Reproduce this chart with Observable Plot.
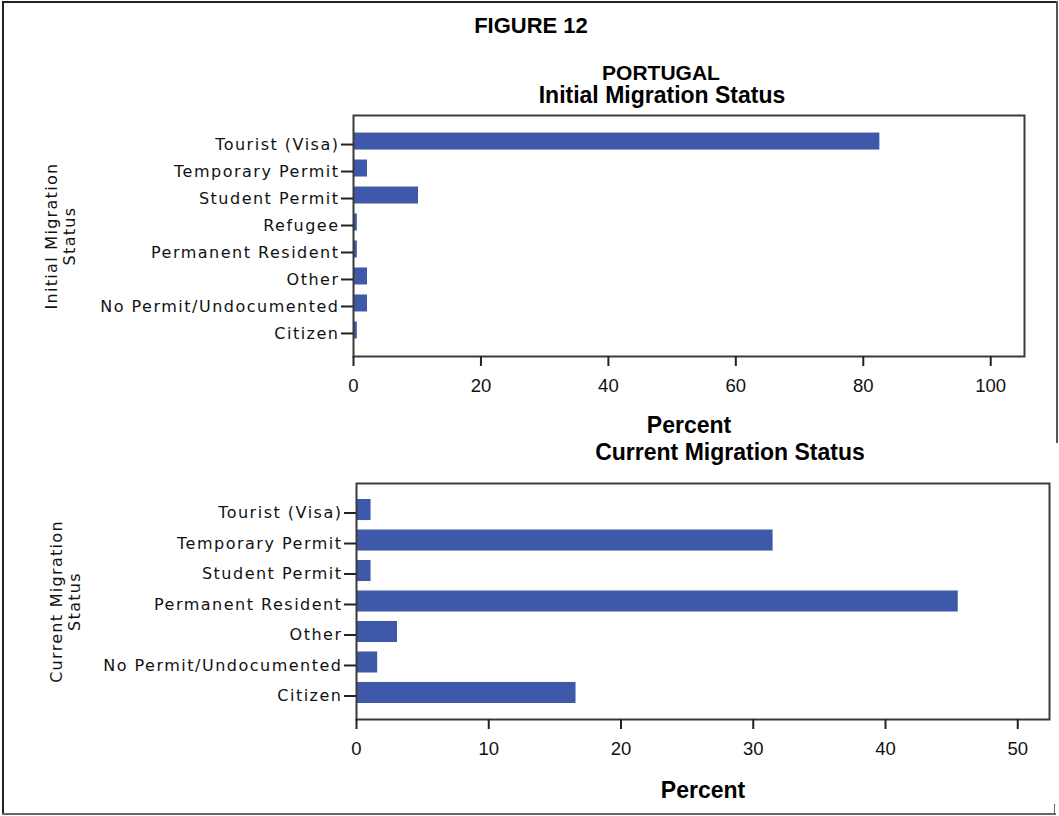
<!DOCTYPE html>
<html>
<head>
<meta charset="utf-8">
<script src="https://cdn.jsdelivr.net/npm/d3@7"></script>
<script src="https://cdn.jsdelivr.net/npm/@observablehq/plot@0.6"></script>
<style>
  html, body { margin: 0; padding: 0; background: #fff; }
  #page { position: relative; width: 1059px; height: 816px; overflow: hidden; font-family: "Liberation Sans", Arial, sans-serif; }
  .title { position: absolute; font-weight: bold; font-size: 22px; color: #000; white-space: nowrap; transform: translate(-50%, -50%); line-height: 1; }
  .edge { position: absolute; background: #222; }
  .chart { position: absolute; left: 0; }
  .chart svg { overflow: visible; }
  .chart g[aria-label="y-axis tick label"] text { letter-spacing: 1.5px; }
</style>
</head>
<body>
<div id="page">
  <div class="edge" style="left:2px;top:1px;width:2px;height:814px;"></div>
  <div class="edge" style="left:2px;top:1px;width:1056px;height:2px;"></div>
  <div class="edge" style="left:1056px;top:1px;width:2px;height:442px;background:#555;"></div>
  <div class="edge" style="left:2px;top:813px;width:1054px;height:2px;background:#666;"></div>
  <div class="edge" style="left:1054px;top:804px;width:1px;height:10px;background:#666;"></div>

  <div class="title" style="left:531px;top:26px;">FIGURE 12</div>
  <div class="title" style="left:661px;top:72px;font-size:21px;">PORTUGAL</div>
  <div class="title" style="left:662px;top:95px;font-size:23px;">Initial Migration Status</div>
  <div class="title" style="left:730px;top:452px;font-size:23px;">Current Migration Status</div>

  <div id="top" class="chart" style="top:0px;"></div>
  <div id="bottom" class="chart" style="top:440px;"></div>
</div>
<script>
// Portugal: initial migration status (percent of respondents)
const initialStatuses = ["Tourist (Visa)", "Temporary Permit", "Student Permit", "Refugee", "Permanent Resident", "Other", "No Permit/Undocumented", "Citizen"];
const initialPercent = [82.6, 2.2, 10.2, 0.6, 0.6, 2.2, 2.2, 0.6];
const initialTicks = [0, 20, 40, 60, 80, 100];

// Portugal: current migration status (percent of respondents)
const currentStatuses = ["Tourist (Visa)", "Temporary Permit", "Student Permit", "Permanent Resident", "Other", "No Permit/Undocumented", "Citizen"];
const currentPercent = [1.1, 31.5, 1.1, 45.5, 3.1, 1.6, 16.6];
const currentTicks = [0, 10, 20, 30, 40, 50];

const barColor = "#3e59aa";
const labelFont = "DejaVu Sans";

function statusChart({statuses, percent, ticks, xMax, yTitle, height, margins, padInner, padOuter, percentDy, titleDx}) {
  const rows = statuses.map((s, i) => ({status: s, percent: percent[i]}));
  const svg = Plot.plot({
    width: 1059,
    height,
    ...margins,
    style: {background: "transparent", color: "#111"},
    x: {domain: [0, xMax]},
    y: {domain: statuses, paddingInner: padInner, paddingOuter: padOuter, round: false},
    marks: [
      Plot.barX(rows, {x: "percent", y: "status", fill: barColor}),
      Plot.frame({stroke: "#3a3a3a", strokeWidth: 2}),
      Plot.axisX({ticks, tickFormat: d => d, tickSize: 10, tickPadding: 12, fontSize: 18.5,
        fontFamily: "Liberation Sans", label: null, strokeWidth: 2, stroke: "#222"}),
      Plot.axisY({tickSize: 12, tickPadding: 2, fontSize: 16, fontFamily: labelFont, dy: 3,
        label: null, strokeWidth: 2, stroke: "#222"}),
      Plot.text(["Percent"], {frameAnchor: "bottom", dy: percentDy, fontSize: 23, fontWeight: "bold",
        fontFamily: "Liberation Sans", fill: "#000"}),
      Plot.text([yTitle], {frameAnchor: "left", dx: titleDx, rotate: -90, textAnchor: "middle",
        fontSize: 16, lineHeight: 1.12, fontFamily: labelFont, fill: "#111"})
    ]
  });
  // spaced lettering for the rotated axis title
  d3.select(svg).selectAll("text")
    .filter(function () { return this.textContent.includes("Migration"); })
    .style("letter-spacing", "1.3px");
  return svg;
}

document.getElementById("top").append(statusChart({
  statuses: initialStatuses, percent: initialPercent, ticks: initialTicks, xMax: 105.3,
  yTitle: "Initial Migration\nStatus", height: 440,
  margins: {marginLeft: 353, marginRight: 35, marginTop: 115, marginBottom: 84},
  padInner: 0.37, padOuter: 0.65, percentDy: 76, titleDx: -293
}));

document.getElementById("bottom").append(statusChart({
  statuses: currentStatuses, percent: currentPercent, ticks: currentTicks, xMax: 52.4,
  yTitle: "Current Migration\nStatus", height: 376,
  margins: {marginLeft: 356, marginRight: 10, marginTop: 43, marginBottom: 97},
  padInner: 0.31, padOuter: 0.525, percentDy: 78, titleDx: -291
}));
</script>
</body>
</html>
